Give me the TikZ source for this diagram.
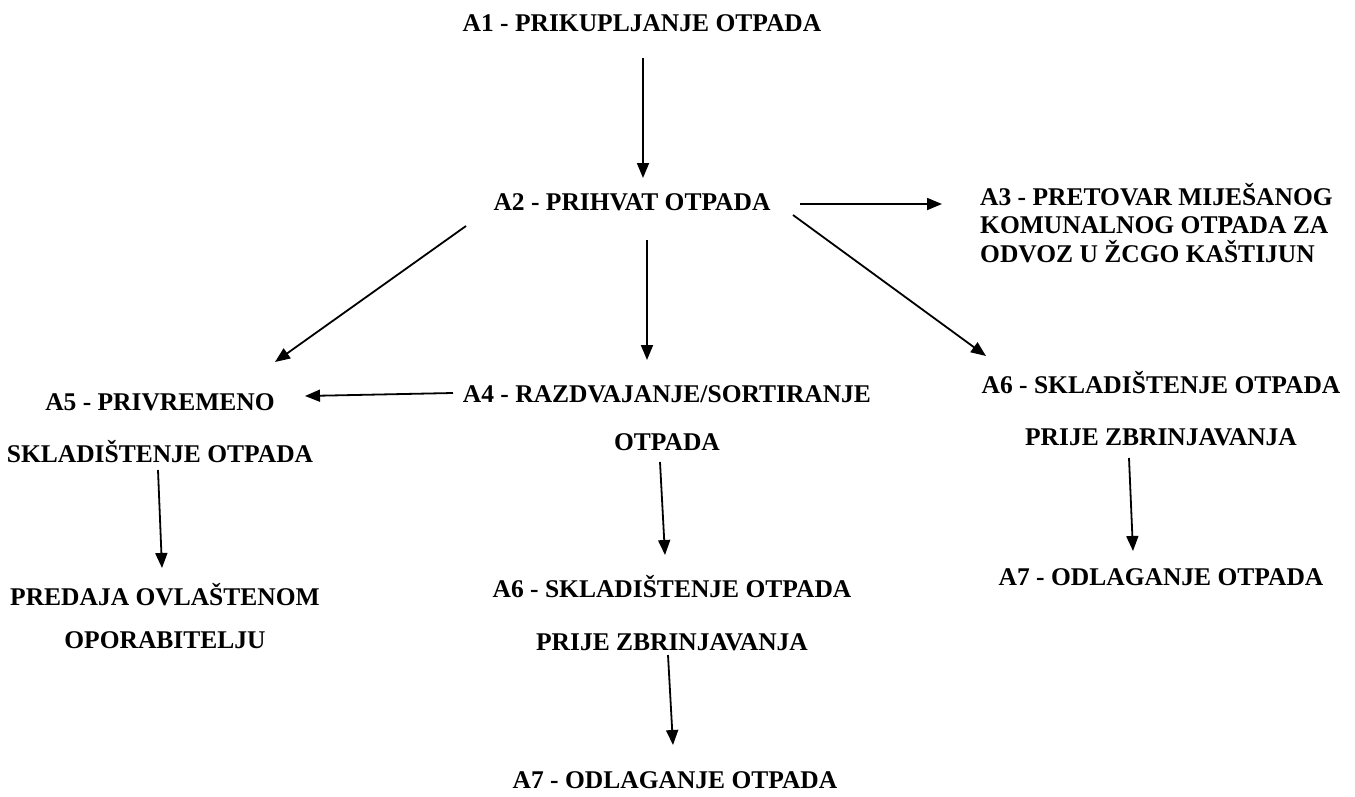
\documentclass[tikz,border=0pt]{standalone}
\usepackage{fontspec}
\setmainfont{Liberation Serif}
\usepackage{tikz}
\usetikzlibrary{arrows.meta,
                positioning}
\tikzstyle{arrow} = [line width=1.8pt,-{Triangle[length=15pt,width=12pt]}]
\tikzstyle{step box} = [inner sep=0pt, anchor=base, align=center,
                        font=\bfseries\fontsize{25.5}{28.5}\selectfont]

\begin{document}
\begin{tikzpicture}[x=1pt,y=-1pt]
    \useasboundingbox (0,0) rectangle (1355,796);

    % base of a multi-line node is its last line
    \node[step box] (a1) at (642,31) {A1 - PRIKUPLJANJE OTPADA};
    \node[step box] (a2) at (632,210) {A2 - PRIHVAT OTPADA};
    \node[step box, anchor=base west, align=left] (a3) at (980,262)
        {A3 - PRETOVAR MIJEŠANOG\\KOMUNALNOG OTPADA ZA\\ODVOZ U ŽCGO KAŠTIJUN};
    \node[step box] (a4) at (667,450) {A4 - RAZDVAJANJE/SORTIRANJE\\[19.5pt]OTPADA};
    \node[step box] (a5) at (160,462) {A5 - PRIVREMENO\\[23.5pt]SKLADIŠTENJE OTPADA};
    \node[step box] (a6m) at (672,650) {A6 - SKLADIŠTENJE OTPADA\\[24.5pt]PRIJE ZBRINJAVANJA};
    \node[step box] (a6r) at (1161,445) {A6 - SKLADIŠTENJE OTPADA\\[23.5pt]PRIJE ZBRINJAVANJA};
    \node[step box] (a7m) at (675,788) {A7 - ODLAGANJE OTPADA};
    \node[step box] (a7r) at (1161,585) {A7 - ODLAGANJE OTPADA};
    \node[step box] (pred) at (165,648) {PREDAJA OVLAŠTENOM\\[14.5pt]OPORABITELJU};

    \draw [arrow] ([shift={(1,27)}]a1.base) -- ([shift={(11,-32)}]a2.base);
    \draw [arrow] ([shift={(168,-6)}]a2.base) -- ([shift={(-38,-58)}]a3.base west);
    \draw [arrow] ([shift={(-166,16)}]a2.base) -- ([shift={(115,-100)}]a5.base);
    \draw [arrow] ([shift={(15,30)}]a2.base) -- ([shift={(-20,-90)}]a4.base);
    \draw [arrow] ([shift={(161,5)}]a2.base) -- ([shift={(-175,-89)}]a6r.base);
    \draw [arrow] ([shift={(-214,-57)}]a4.base) -- ([shift={(145,-66)}]a5.base);
    \draw [arrow] ([shift={(-7,12)}]a4.base) -- ([shift={(-7,-95)}]a6m.base);
    \draw [arrow] ([shift={(-4,5)}]a6m.base) -- ([shift={(-2,-43)}]a7m.base);
    \draw [arrow] ([shift={(-32,13)}]a6r.base) -- ([shift={(-28,-34)}]a7r.base);
    \draw [arrow] ([shift={(-2,8)}]a5.base) -- ([shift={(-3,-80)}]pred.base);
\end{tikzpicture}
\end{document}
